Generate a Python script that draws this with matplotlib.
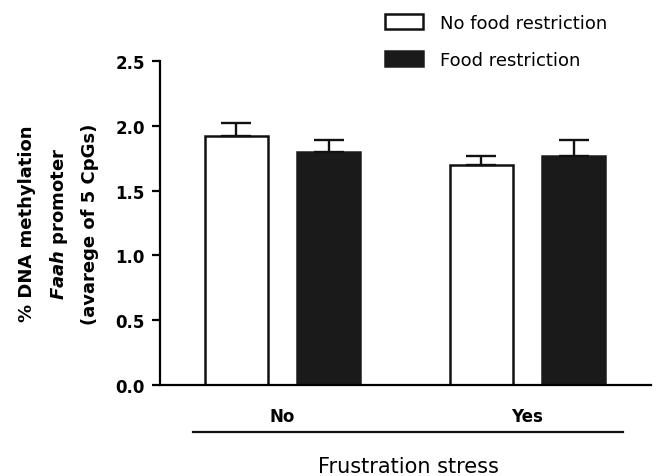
import matplotlib.pyplot as plt
import matplotlib.transforms as mtransforms
from matplotlib.patches import Patch
import numpy as np

plt.rcParams["font.family"] = ["DejaVu Sans"]
plt.rcParams["mathtext.fontset"] = "custom"
plt.rcParams["mathtext.it"] = "DejaVu Sans:bold:italic"
plt.rcParams["mathtext.rm"] = "DejaVu Sans:bold"

groups = ["No", "Yes"]
series = ["No food restriction", "Food restriction"]
means_no_food = [1.92, 1.70]
means_food = [1.80, 1.77]
err_no_food = [0.10, 0.065]
err_food = [0.09, 0.12]

fig = plt.figure(figsize=(6.59, 4.77), dpi=100)
ax = fig.add_axes([160 / 659, 1 - 386 / 477, (651 - 160) / 659, 324 / 477])

x = np.arange(len(groups))
width = 0.257
offset = 0.188

ax.bar(x - offset, means_no_food, width=width, color="white", edgecolor="#111111",
       linewidth=1.8, yerr=[np.zeros(2), err_no_food], capsize=10.5,
       error_kw=dict(elinewidth=1.7, capthick=1.7, ecolor="#111111"), zorder=2)
ax.bar(x + offset, means_food, width=width, color="#1a1a1a", edgecolor="#1a1a1a",
       linewidth=1.8, yerr=[np.zeros(2), err_food], capsize=10.5,
       error_kw=dict(elinewidth=1.7, capthick=1.7, ecolor="#111111"), zorder=2)

ax.set_xlim(-0.5, 1.504)
ax.set_ylim(0, 2.5)
yticks = np.arange(0, 2.51, 0.5)
ax.set_yticks(yticks)
ax.set_yticklabels([f"{v:.1f}" for v in yticks], fontsize=12, fontweight="bold")
ax.set_xticks(x)
ax.set_xticklabels(groups, fontsize=12, fontweight="bold")
ax.tick_params(axis="x", length=0, pad=16)
ax.tick_params(axis="y", length=5.8, width=1.6, pad=5)

for side in ["top", "right"]:
    ax.spines[side].set_visible(False)
for side in ["left", "bottom"]:
    ax.spines[side].set_linewidth(1.6)

# group bracket line under the category labels
trans = mtransforms.blended_transform_factory(ax.transData, ax.transAxes)
ax.plot([-0.365, 1.39], [-0.145, -0.145], color="#111111", lw=1.6,
        transform=trans, clip_on=False)

fig.text(408 / 659, 1 - 467 / 477, "Frustration stress", ha="center", va="center", fontsize=15)

ax.set_ylabel("% DNA methylation\n$\\mathit{Faah}$ promoter\n(avarege of 5 CpGs)",
              fontsize=13, fontweight="bold", linespacing=1.77, labelpad=12)

handles = [Patch(facecolor="white", edgecolor="#111111", linewidth=1.8),
           Patch(facecolor="#1a1a1a", edgecolor="#1a1a1a", linewidth=1.8)]
fig.legend(handles, series, loc="upper left", bbox_to_anchor=(369 / 659, 1.003),
           frameon=False, fontsize=13, handlelength=2.1, handleheight=0.95,
           handletextpad=0.95, labelspacing=1.05)

fig.savefig("out.png", dpi=100)
